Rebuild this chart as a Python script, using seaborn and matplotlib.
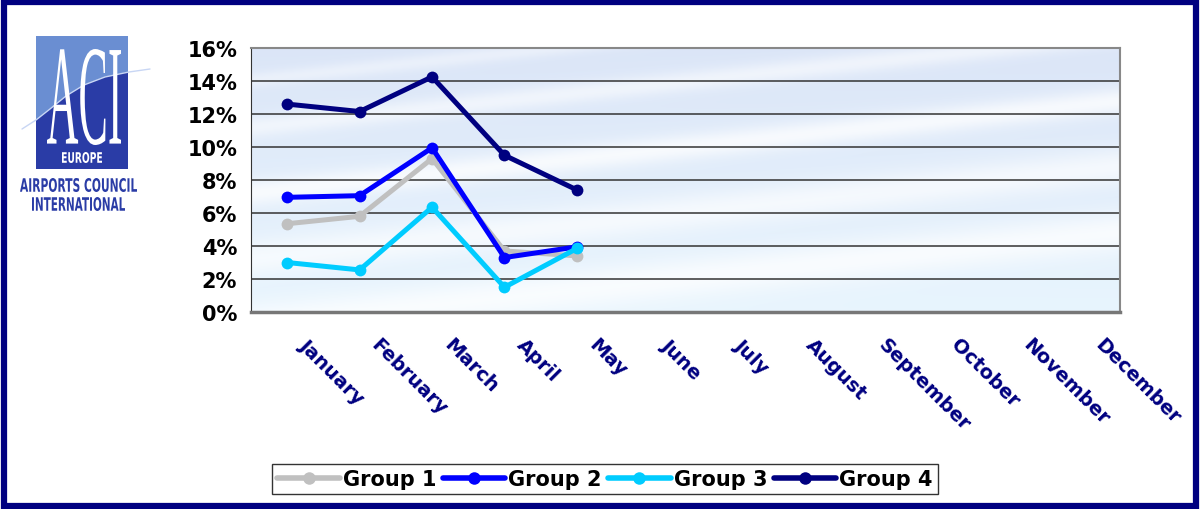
import numpy as np
import pandas as pd
import matplotlib
matplotlib.use("Agg")
import matplotlib.pyplot as plt
from matplotlib.patches import Rectangle, Polygon, PathPatch
from matplotlib.textpath import TextPath
from matplotlib.font_manager import FontProperties
from matplotlib.transforms import Affine2D, ScaledTranslation
import seaborn as sns

# -----------------------------
# Data (percent values)
# -----------------------------
months = ["January", "February", "March", "April", "May", "June", "July",
          "August", "September", "October", "November", "December"]

group1 = [5.35, 5.8, 9.3, 3.7, 3.4]
group2 = [6.95, 7.05, 9.95, 3.3, 3.95]
group3 = [3.0, 2.55, 6.35, 1.5, 3.85]
group4 = [12.6, 12.15, 14.25, 9.5, 7.4]

group_names = ["Group 1", "Group 2", "Group 3", "Group 4"]
group_colors = {"Group 1": "#c0c0c0", "Group 2": "#0000ff",
                "Group 3": "#00ccff", "Group 4": "#000080"}

yticks = [0, 2, 4, 6, 8, 10, 12, 14, 16]

rows = []
for name, vals in zip(group_names, [group1, group2, group3, group4]):
    for i, v in enumerate(vals):
        rows.append({"month": i, "value": v, "group": name})
df = pd.DataFrame(rows)

# -----------------------------
# Figure
# -----------------------------
sns.set_style("white")
plt.rcParams["font.family"] = ["DejaVu Sans"]
plt.rcParams["text.color"] = "black"

W, H = 1200, 510
fig = plt.figure(figsize=(12, 5.1), dpi=100)
fig.patch.set_facecolor("white")

# navy outer frame
fig.patches.append(Rectangle((0.003, 0.006), 0.994, 0.988, transform=fig.transFigure,
                             fill=False, edgecolor="#000080", linewidth=4.5, zorder=10))

ax = fig.add_axes([251 / W, 1 - 313 / H, (1120 - 251) / W, (313 - 49) / H])

# background gradient with soft white streaks
ny, nx = 200, 600
u = np.linspace(0, 1, nx)[None, :]
v = np.linspace(1, 0, ny)[:, None]
top = np.array([0.86, 0.90, 0.97])
bot = np.array([0.91, 0.96, 0.995])
img = bot[None, None, :] * (1 - v[..., None]) + top[None, None, :] * v[..., None]
img = np.broadcast_to(img, (ny, nx, 3)).copy()
light = np.zeros((ny, nx))
for c, w, a in [(0.45, 0.05, 0.75), (0.20, 0.07, 0.65), (0.70, 0.04, 0.55),
                (-0.05, 0.08, 0.75), (0.88, 0.03, 0.4)]:
    light = np.maximum(light, a * np.exp(-((v - (c + 0.35 * u)) / w) ** 2))
img = img * (1 - light[..., None]) + light[..., None]
ax.imshow(img, extent=[-0.5, 11.5, 0, 16], aspect="auto", zorder=0)

for y in yticks[1:]:
    ax.axhline(y, color="#333333", linewidth=1.1, zorder=1)

sns.lineplot(data=df, x="month", y="value", hue="group", hue_order=group_names,
             palette=group_colors, marker="o", markersize=8.5, markeredgewidth=0,
             linewidth=3.6, sort=False, ax=ax, zorder=3)

ax.set_xlim(-0.5, 11.5)
ax.set_ylim(0, 16)
ax.set_xlabel("")
ax.set_ylabel("")

ax.set_yticks(yticks)
ax.set_yticklabels([f"{t}%" for t in yticks], fontsize=15, fontweight="bold", color="black")
ax.tick_params(axis="y", length=7, width=1, color="#333333", pad=3)

ax.set_xticks(range(12))
ax.set_xticklabels(months, rotation=-45, ha="left", va="top", fontsize=14,
                   fontweight="bold", color="#000080")
ax.tick_params(axis="x", which="major", length=0, pad=16)
shift = ScaledTranslation(8 / 100, 0, fig.dpi_scale_trans)
for lab in ax.get_xticklabels():
    lab.set_transform(lab.get_transform() + shift)
ax.set_xticks(np.arange(-0.5, 12, 1), minor=True)
ax.tick_params(axis="x", which="minor", length=5, width=1, color="#333333")

for side in ["top", "right"]:
    ax.spines[side].set_color("#888888")
    ax.spines[side].set_linewidth(1.5)
ax.spines["left"].set_color("#333333")
ax.spines["bottom"].set_color("#777777")
ax.spines["bottom"].set_linewidth(2.5)

handles, labels = ax.get_legend_handles_labels()
ax.get_legend().remove()
for h in handles:
    h.set_markersize(9)
    h.set_linewidth(4)
leg = fig.legend(handles, labels, loc="center", bbox_to_anchor=(605 / W, 1 - 480 / H),
                 ncol=4, frameon=True, fancybox=False, edgecolor="black",
                 handlelength=3.0, handletextpad=0.15, columnspacing=0.3,
                 borderpad=0.25, borderaxespad=0,
                 prop={"family": "DejaVu Sans", "weight": "bold", "size": 15})
leg.get_frame().set_linewidth(1.0)
for txt in leg.get_texts():
    txt.set_color("black")

# -----------------------------
# ACI Europe logo
# -----------------------------
def fx(px):
    return px / W


def fy(py):
    return 1 - py / H


def box_text(s, x0, y0, w, h, color, family="DejaVu Sans", weight="bold", z=6):
    # draw a text stretched into a pixel box (x0, y0 = top-left)
    tp = TextPath((0, 0), s, size=100, prop=FontProperties(family=family, weight=weight))
    bb = tp.get_extents()
    tr = (Affine2D().translate(-bb.x0, -bb.y0)
          .scale(w / bb.width, h / bb.height)
          .translate(x0, H - (y0 + h)))
    patch = PathPatch(tp, facecolor=color, edgecolor="none", transform=tr, zorder=z)
    fig.patches.append(patch)


fig.patches.append(Rectangle((fx(36), fy(170)), fx(92), 133 / H, transform=fig.transFigure,
                             facecolor="#6a8ed2", edgecolor="none", zorder=2))
arc_px = [(22, 130), (36, 121), (50, 110), (66, 97), (84, 86), (105, 78), (129, 73), (150, 70)]
poly = [(fx(x), fy(y)) for x, y in arc_px if 36 <= x <= 128]
poly = [(fx(36), fy(121))] + poly + [(fx(128), fy(73)), (fx(128), fy(170)), (fx(36), fy(170))]
fig.patches.append(Polygon(poly, closed=True, transform=fig.transFigure,
                           facecolor="#2a3ca6", edgecolor="none", zorder=3))
fig.lines.append(plt.Line2D([fx(x) for x, _ in arc_px], [fy(y) for _, y in arc_px],
                            transform=fig.transFigure, color="#c8d6f4", linewidth=1.0, zorder=4))
box_text("ACI", 47, 50, 74, 96, "white", family="Liberation Serif", weight="normal")
box_text("EUROPE", 62, 153, 40, 11, "white")
box_text("AIRPORTS COUNCIL", 20, 179, 117, 14, "#2a3ca6")
box_text("INTERNATIONAL", 32, 198, 93, 14, "#2a3ca6")

plt.savefig("out.png", dpi=100)
plt.close()
